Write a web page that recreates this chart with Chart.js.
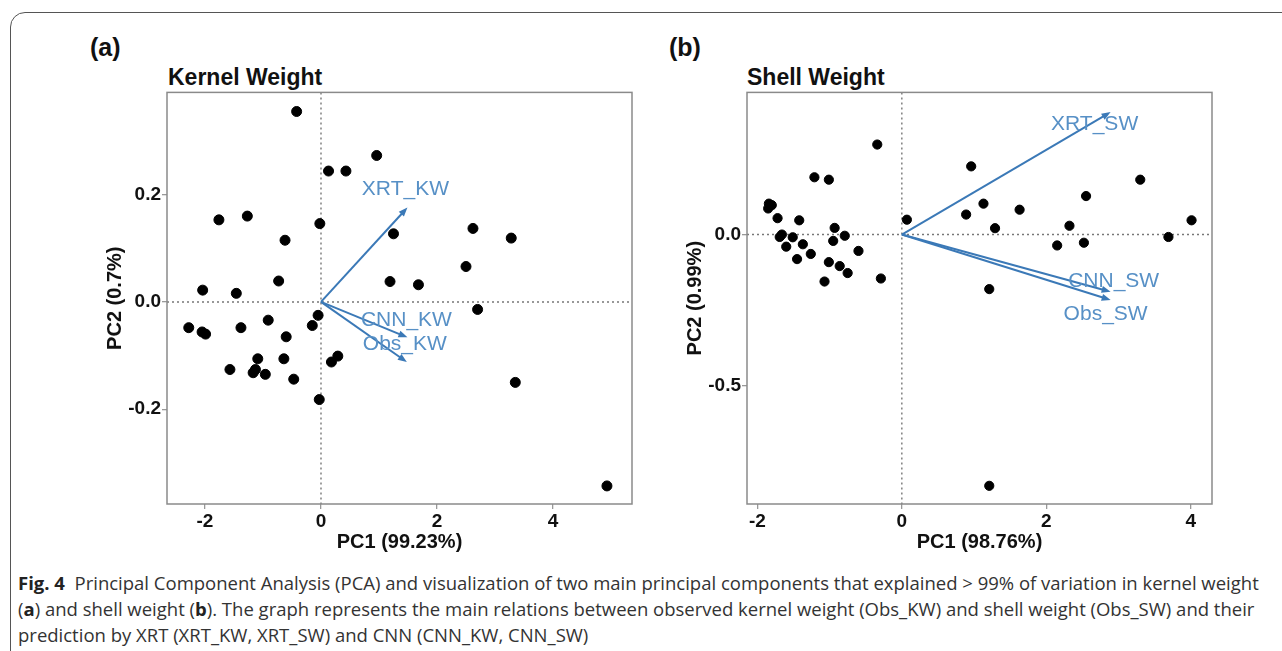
<!DOCTYPE html>
<html>
<head>
<meta charset="utf-8">
<script src="https://cdn.jsdelivr.net/npm/chart.js@4.4.0/dist/chart.umd.min.js"></script>
<style>
body{margin:0;background:#fff;width:1282px;height:651px;overflow:hidden;position:relative;font-family:"Liberation Sans",Arial,sans-serif}
.card{position:absolute;left:10px;top:12px;width:1300px;height:700px;border:1px solid #555;border-radius:15px}
.lab{position:absolute;font-weight:bold;font-size:25px;line-height:1;color:#111}
.ttl{position:absolute;font-weight:bold;font-size:23px;line-height:1;color:#111}
.box{position:absolute;top:80px;width:570px;height:490px}
.cap{position:absolute;left:18px;top:570px;width:1262px;font-family:"Open Sans",sans-serif;font-size:18.5px;line-height:26px;color:#333;white-space:nowrap}
.cap b{color:#222}
</style>
</head>
<body>
<div class="card"></div>
<div class="lab" style="left:90px;top:35px">(a)</div>
<div class="lab" style="left:669px;top:35px">(b)</div>
<div class="ttl" style="left:168px;top:66px">Kernel Weight</div>
<div class="ttl" style="left:747px;top:66px">Shell Weight</div>
<div class="box" style="left:80px"><canvas id="kw"></canvas></div>
<div class="box" style="left:660px"><canvas id="sw"></canvas></div>
<div class="cap">
<b>Fig. 4</b>&nbsp; Principal Component Analysis (PCA) and visualization of two main principal components that explained &gt; 99% of variation in kernel weight<br>
(<b>a</b>) and shell weight (<b>b</b>). The graph represents the main relations between observed kernel weight (Obs_KW) and shell weight (Obs_SW) and their<br>
prediction by XRT (XRT_KW, XRT_SW) and CNN (CNN_KW, CNN_SW)
</div>
<script>
// scores, kernel weight
var kwX = [-0.42, 0.96, 0.13, 0.43, -1.76, -1.27, -0.02, -0.62, 1.25, 2.62, 3.28, 2.50, -0.73, 1.19, 1.68, -2.04, -1.46, 2.70, -0.05,
           -2.28, -2.05, -1.99, -1.38, -0.91, -0.15, -0.60, -1.09, -0.64, 0.29, 0.18, -1.57, -1.17, -1.13, -0.96, -0.47, 3.35, -0.03, 4.93];
var kwY = [0.355, 0.273, 0.244, 0.244, 0.153, 0.160, 0.146, 0.115, 0.127, 0.137, 0.119, 0.066, 0.039, 0.038, 0.032, 0.022, 0.016, -0.014, -0.025,
           -0.048, -0.056, -0.060, -0.048, -0.034, -0.044, -0.065, -0.106, -0.106, -0.101, -0.112, -0.126, -0.132, -0.126, -0.135, -0.144, -0.150, -0.182, -0.343];
// scores, shell weight
var swX = [-0.34, 0.96, -1.21, -1.01, 3.30, 2.55, -1.84, -1.80, -1.85, 1.13, 1.63, 0.89, -1.72, -1.42, 0.07, 4.01, 1.29, 2.32, -0.93, -1.69,
           -1.66, -1.51, -0.79, -0.95, -1.37, -1.60, 3.69, 2.15, 2.52, -0.60, -1.26, -1.45, -1.01, -0.86, -0.75, -1.07, -0.29, 1.21, 1.21];
var swY = [0.297, 0.225, 0.189, 0.181, 0.181, 0.127, 0.102, 0.097, 0.086, 0.102, 0.082, 0.066, 0.054, 0.047, 0.049, 0.047, 0.021, 0.029, 0.022, -0.008,
           0.000, -0.009, -0.004, -0.021, -0.032, -0.040, -0.008, -0.036, -0.027, -0.054, -0.064, -0.081, -0.091, -0.104, -0.127, -0.155, -0.145, -0.180, -0.829];
// loadings (arrows)
var kwNames = ['XRT_KW', 'CNN_KW', 'Obs_KW'];
var kwLoadX = [1.49, 1.49, 1.48];
var kwLoadY = [0.176, -0.066, -0.112];
var swNames = ['XRT_SW', 'CNN_SW', 'Obs_SW'];
var swLoadX = [2.89, 2.89, 2.89];
var swLoadY = [0.404, -0.189, -0.216];

var biplot = {
  id: 'biplot',
  beforeDatasetsDraw: function(chart, args, o) {
    var ctx = chart.ctx, a = chart.chartArea, x = chart.scales.x, y = chart.scales.y;
    var x0 = x.getPixelForValue(0), y0 = y.getPixelForValue(0);
    ctx.save();
    ctx.strokeStyle = '#777';
    ctx.lineWidth = 1.4;
    ctx.setLineDash([2, 3]);
    ctx.beginPath();
    ctx.moveTo(a.left, y0); ctx.lineTo(a.right, y0);
    ctx.moveTo(x0, a.top); ctx.lineTo(x0, a.bottom);
    ctx.stroke();
    ctx.restore();
  },
  afterDatasetsDraw: function(chart, args, o) {
    var ctx = chart.ctx, a = chart.chartArea, x = chart.scales.x, y = chart.scales.y;
    var x0 = x.getPixelForValue(0), y0 = y.getPixelForValue(0);
    ctx.save();
    for (var i = 0; i < o.names.length; i++) {
      var px = x.getPixelForValue(o.lx[i]), py = y.getPixelForValue(o.ly[i]);
      var ang = Math.atan2(py - y0, px - x0);
      ctx.strokeStyle = '#3b79b7';
      ctx.fillStyle = '#3b79b7';
      ctx.lineWidth = 2;
      ctx.beginPath();
      ctx.moveTo(x0, y0); ctx.lineTo(px - 4 * Math.cos(ang), py - 4 * Math.sin(ang));
      ctx.stroke();
      ctx.beginPath();
      ctx.moveTo(px, py);
      ctx.lineTo(px - 9 * Math.cos(ang) + 3.5 * Math.sin(ang), py - 9 * Math.sin(ang) - 3.5 * Math.cos(ang));
      ctx.lineTo(px - 9 * Math.cos(ang) - 3.5 * Math.sin(ang), py - 9 * Math.sin(ang) + 3.5 * Math.cos(ang));
      ctx.closePath();
      ctx.fill();
      ctx.fillStyle = '#5790c6';
      ctx.font = '21px "Liberation Sans", Arial, sans-serif';
      ctx.textAlign = 'center';
      ctx.textBaseline = 'middle';
      ctx.fillText(o.names[i], px + o.off[i][0], py + o.off[i][1]);
    }
    ctx.strokeStyle = '#8a8a8a';
    ctx.lineWidth = 1.5;
    ctx.strokeRect(a.left, a.top, a.right - a.left, a.bottom - a.top);
    ctx.restore();
  }
};

function makeChart(id, xs, ys, names, lx, ly, off, xr, yr, ystep, xTitle, yTitle, r) {
  var pts = xs.map(function(v, i) { return {x: v, y: ys[i]}; });
  return new Chart(document.getElementById(id), {
    type: 'scatter',
    data: {datasets: [{data: pts, backgroundColor: '#000', borderColor: '#000', pointRadius: r, pointHoverRadius: r}]},
    options: {
      responsive: true,
      maintainAspectRatio: false,
      animation: false,
      layout: {padding: {top: 12, right: 18, left: 0, bottom: 0}},
      plugins: {legend: {display: false}, tooltip: {enabled: false}, biplot: {names: names, lx: lx, ly: ly, off: off}},
      scales: {
        x: {
          min: xr[0], max: xr[1],
          afterFit: function(s) { s.height = 66; },
          border: {display: false},
          grid: {drawOnChartArea: false, tickLength: 5, color: '#999', lineWidth: 1.3},
          ticks: {stepSize: 2, includeBounds: false, padding: 1, color: '#111', font: {size: 19, weight: 'bold', family: '"Liberation Sans", Arial'}},
          title: {display: true, text: xTitle, color: '#111', padding: {top: 0, bottom: 16}, font: {size: 20, weight: 'bold', family: '"Liberation Sans", Arial'}}
        },
        y: {
          min: yr[0], max: yr[1],
          afterFit: function(s) { s.width = 87; },
          border: {display: false},
          grid: {drawOnChartArea: false, tickLength: 5, color: '#999', lineWidth: 1.3},
          ticks: {stepSize: ystep, includeBounds: false, padding: 1, color: '#111',
                  callback: function(v) { return v.toFixed(1); },
                  font: {size: 19, weight: 'bold', family: '"Liberation Sans", Arial'}},
          title: {display: true, text: yTitle, color: '#111', padding: {top: 23, bottom: 0}, font: {size: 20, weight: 'bold', family: '"Liberation Sans", Arial'}}
        }
      }
    },
    plugins: [biplot]
  });
}

makeChart('kw', kwX, kwY, kwNames, kwLoadX, kwLoadY, [[-2, -18], [-1, -17], [-2, -18]],
  [-2.655, 5.362], [-0.3767, 0.3906], 0.2, 'PC1 (99.23%)', 'PC2 (0.7%)', 5);
makeChart('sw', swX, swY, swNames, swLoadX, swLoadY, [[-16, 12], [3, -11], [-5, 14]],
  [-2.143, 4.293], [-0.889, 0.469], 0.5, 'PC1 (98.76%)', 'PC2 (0.99%)', 4.6);
</script>
</body>
</html>
